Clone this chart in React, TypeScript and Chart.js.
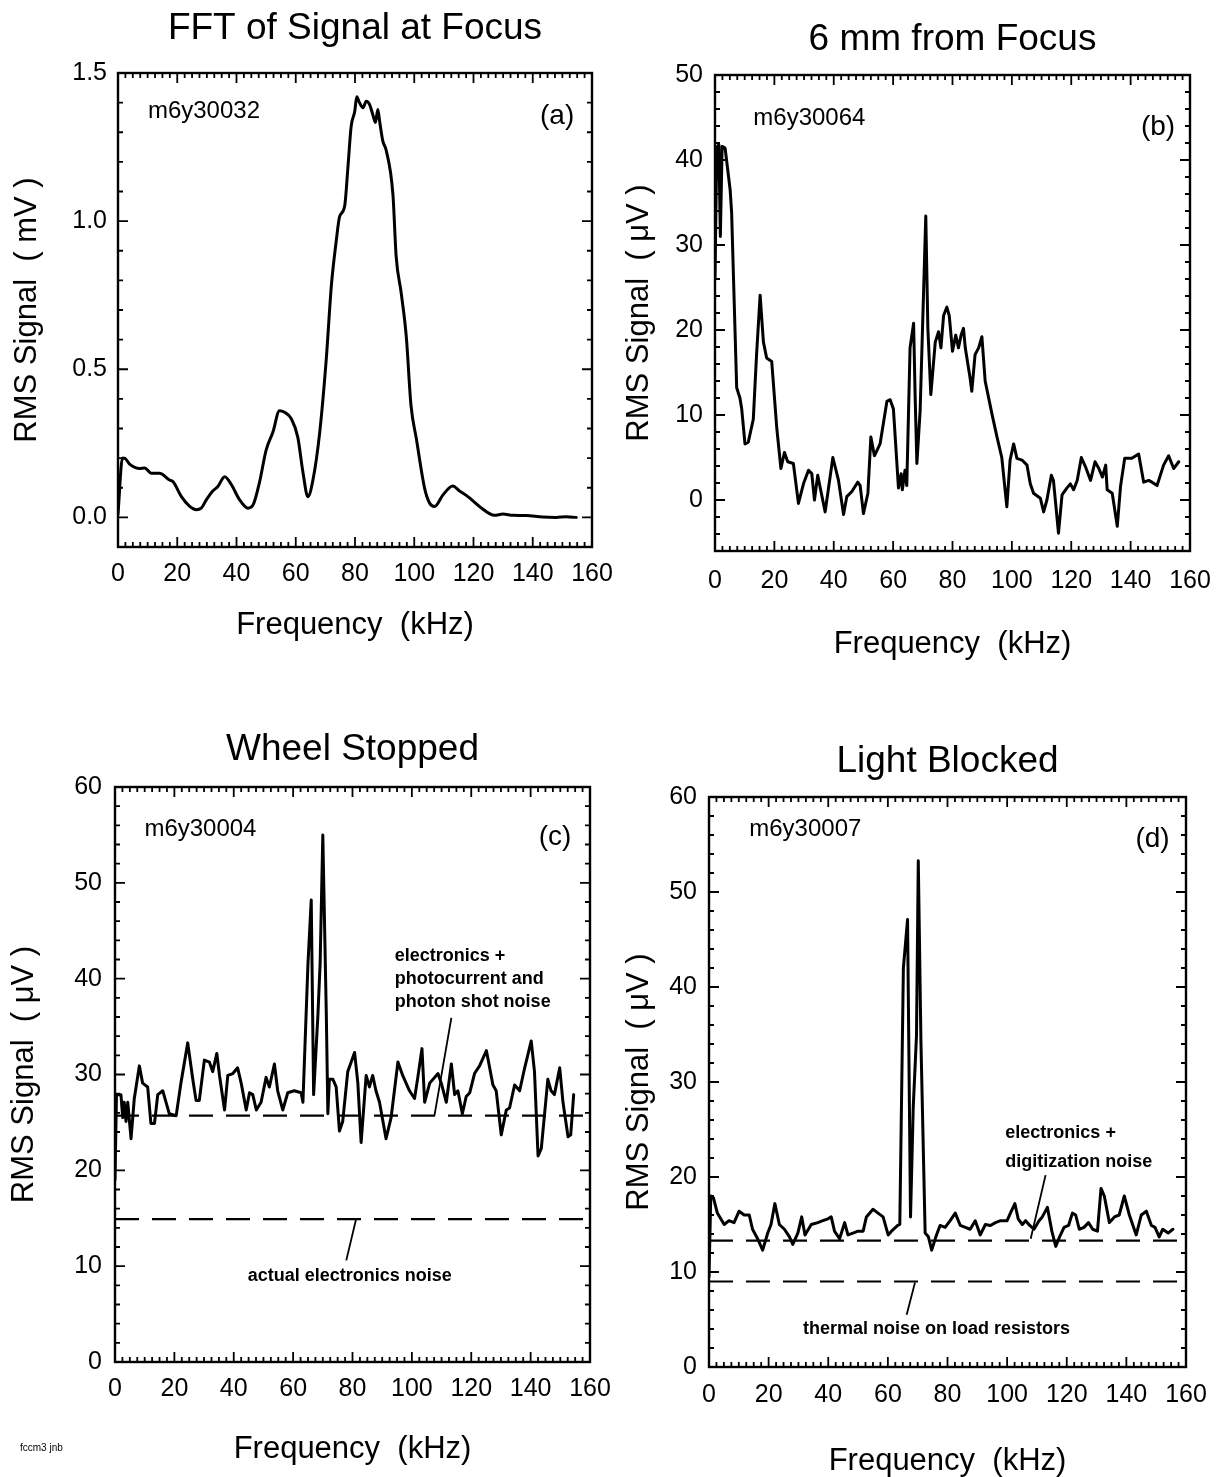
import React, { useEffect, useRef } from "react";
import { Chart, registerables } from "chart.js";

Chart.register(...registerables);

const FONT = "'Liberation Sans', Arial, Helvetica, sans-serif";

// ---------- shared axis ticks ----------
const X_TICKS = [0, 20, 40, 60, 80, 100, 120, 140, 160];
const Y_TICKS_A = [0, 0.5, 1.0, 1.5];
const Y_TICKS_B = [0, 10, 20, 30, 40, 50];
const Y_TICKS_CD = [0, 10, 20, 30, 40, 50, 60];

// ---------- panel (a): FFT of Signal at Focus (mV) ----------
const freqA = [0, 1.5, 2.2, 3.9, 7.3, 9, 11.2, 14, 17.4, 18.6, 21.4, 24.2, 26.4, 28.1, 29.8, 32, 33.7, 36, 38.3, 41, 43.9, 45.6, 47.8, 50, 52.3, 54.5, 56.2, 58.5, 60.7, 62.4, 64.1, 65.8, 68.1, 70.3, 72, 73.7, 74.8, 76.5, 77.6, 78.7, 79.9, 80.6, 81.5, 82.7, 83.8, 84.9, 86, 86.9, 87.7, 88.3, 89.4, 90.5, 92.8, 93.9, 95.6, 97.3, 98.9, 100.7, 103.5, 105.2, 106.9, 109.7, 113, 115.3, 118.1, 122, 127.1, 129.9, 133.3, 137.8, 143.4, 147.9, 151.3, 154.7];
const rmsA = [0.01, 0.2, 0.2, 0.18, 0.165, 0.167, 0.149, 0.149, 0.126, 0.12, 0.07, 0.037, 0.026, 0.031, 0.059, 0.089, 0.104, 0.137, 0.11, 0.06, 0.031, 0.042, 0.12, 0.227, 0.288, 0.36, 0.355, 0.333, 0.27, 0.154, 0.07, 0.126, 0.288, 0.534, 0.78, 0.936, 1.015, 1.05, 1.18, 1.32, 1.37, 1.42, 1.4, 1.383, 1.405, 1.394, 1.36, 1.333, 1.377, 1.338, 1.27, 1.24, 1.09, 0.88, 0.757, 0.612, 0.378, 0.266, 0.098, 0.048, 0.037, 0.076, 0.106, 0.089, 0.07, 0.037, 0.007, 0.011, 0.007, 0.006, 0.001, 0, 0.002, 0];

// ---------- panel (b): 6 mm from Focus (uV) ----------
const freqB = [0, 0.6, 1.3, 1.8, 2.4, 3.4, 5.1, 5.6, 7.3, 8.4, 9.0, 10.1, 11.2, 12.9, 14.0, 15.2, 16.3, 17.4, 19.1, 20.8, 22.2, 23.4, 24.5, 26.4, 28.1, 29.8, 31.5, 32.6, 33.5, 34.6, 35.7, 37.1, 39.7, 41.6, 43.3, 44.4, 46.1, 48.1, 48.9, 50.0, 51.5, 52.5, 53.7, 55.6, 57.9, 59.0, 60.1, 61.8, 62.7, 63.1, 64.0, 64.6, 65.7, 66.9, 67.4, 68.0, 69.1, 69.9, 71.0, 71.7, 72.7, 74.2, 75.3, 76.1, 77.0, 78.1, 78.9, 80.0, 81.1, 82.0, 82.9, 83.7, 84.3, 85.9, 86.5, 87.6, 88.8, 89.9, 91.0, 93.3, 95.0, 96.6, 98.3, 99.4, 100.6, 101.7, 103.4, 105.1, 106.2, 107.3, 109.6, 110.7, 111.8, 113.3, 114.0, 115.7, 116.9, 118.5, 119.7, 120.8, 122.0, 123.4, 124.8, 126.5, 128.0, 129.3, 130.5, 131.6, 132.1, 133.8, 135.5, 136.6, 138.0, 140.4, 142.7, 144.4, 146.1, 147.2, 148.9, 151.1, 152.8, 154.5, 156.2];
const rmsB = [26, 41.5, 41.8, 31, 41.6, 41.4, 36.5, 33.8, 13.2, 12.0, 10.7, 6.6, 6.8, 9.5, 17.1, 24.1, 18.6, 16.7, 16.3, 8.5, 3.7, 5.6, 4.5, 4.3, -0.4, 1.9, 3.5, 3.1, 0, 2.9, 1.0, -1.4, 5.0, 2.3, -1.7, 0.4, 1.0, 2.1, 1.7, -1.6, 0.8, 7.4, 5.2, 6.6, 11.6, 11.8, 10.7, 1.4, 3.1, 1.2, 3.5, 1.7, 17.9, 20.8, 12.4, 4.3, 10.5, 20.2, 33.4, 20.2, 12.4, 18.6, 19.8, 17.9, 21.7, 22.7, 21.7, 17.5, 19.4, 17.9, 19.4, 20.2, 17.9, 14.4, 12.8, 17.1, 17.9, 19.2, 14.0, 10.1, 7.4, 5.0, -0.8, 4.7, 6.6, 4.9, 4.7, 4.1, 1.9, 0.8, 0.2, -1.4, 0, 2.9, 2.3, -3.9, 0.6, 1.4, 1.9, 1.2, 2.3, 5.0, 3.9, 2.3, 4.5, 3.7, 2.7, 4.1, 1.2, 0.8, -3.1, 1.6, 4.9, 4.9, 5.4, 2.1, 2.3, 2.1, 1.7, 4.1, 5.2, 3.7, 4.5];

// ---------- panel (c): Wheel Stopped (uV) ----------
const freqC = [0, 0.5, 2, 2.6, 3.1, 3.7, 4.3, 5.4, 6.5, 8.2, 9.3, 11, 12.1, 13.3, 14.4, 16.1, 17.2, 18.3, 20.6, 22.2, 24.5, 26.2, 27.3, 28.4, 30.1, 31.8, 32.9, 34.3, 35.2, 36.9, 38, 39.7, 41.3, 42.5, 44.2, 45.3, 46.4, 47.6, 49.2, 50.9, 52, 53.7, 54.8, 56.5, 58.2, 60.4, 62.7, 63.3, 65, 66.1, 66.9, 68.3, 69.1, 70, 71.2, 71.7, 72.2, 73.4, 74.5, 75.6, 76.7, 78.4, 80.7, 81.8, 82.9, 84.6, 85.7, 86.8, 87.9, 89.1, 91.3, 93, 95.3, 96.9, 99.2, 100.9, 102, 103.4, 104.3, 106, 108.8, 109.9, 111.6, 113.3, 114.4, 115.5, 117, 118.3, 119.5, 121.1, 122.8, 125.1, 127.3, 128.4, 130.1, 131.8, 132.9, 134.6, 136.3, 138, 140.2, 141.3, 142.5, 143.6, 145.8, 146.9, 148, 149.8, 150.9, 152.6, 153.5, 154.5];
const rmsC = [19, 27.9, 27.9, 25.5, 27.1, 25.1, 27.1, 23.3, 27.5, 30.9, 29.1, 28.7, 24.9, 24.9, 27.9, 28.3, 27.1, 25.9, 25.7, 29.1, 33.3, 29.5, 27.3, 27.3, 31.5, 31.3, 30.3, 32.2, 29.9, 26.3, 29.9, 30.1, 30.7, 29.1, 26.3, 28.1, 27.9, 26.3, 27.1, 29.7, 28.7, 31.1, 28.3, 26.3, 28.1, 28.3, 28.1, 27.1, 41.6, 48.2, 27.9, 35.9, 41.6, 55.0, 35.9, 25.9, 29.5, 29.5, 28.7, 24.1, 25.1, 30.3, 32.3, 29.1, 22.9, 29.9, 28.7, 29.9, 28.3, 27.1, 23.3, 25.5, 31.3, 29.9, 28.3, 27.5, 29.7, 32.7, 27.1, 29.1, 30.1, 29.1, 27.1, 31.1, 27.9, 28.3, 25.9, 27.7, 28.1, 30.1, 30.9, 32.5, 28.9, 28.3, 23.7, 26.3, 26.5, 28.9, 28.3, 30.7, 33.5, 30.3, 21.5, 22.3, 29.5, 28.3, 27.9, 30.7, 27.1, 23.5, 23.7, 27.9];
const levelsC = [25.7, 14.9];
const leaderC1X = [113.3, 107.6];
const leaderC1Y = [35.9, 25.7];
const leaderC2X = [81.2, 77.9];
const leaderC2Y = [14.9, 10.6];

// ---------- panel (d): Light Blocked (uV) ----------
const freqD = [0, 0.6, 1.5, 2.8, 5.1, 6.7, 8.4, 10.1, 11.8, 13.5, 14.6, 16.3, 18, 19.7, 20.8, 22.1, 23.6, 25.3, 27, 28.1, 29.8, 31.1, 32.2, 34.3, 36.5, 38.2, 39.9, 41, 42.1, 43.8, 45.5, 46.6, 48.3, 50, 51.7, 52.8, 55, 56.7, 58.4, 60.1, 61.2, 63.3, 64, 65.2, 66.6, 67.6, 68.5, 69.6, 70.2, 71.1, 72.5, 73.6, 74.7, 76.1, 77.5, 79.2, 80.9, 82.6, 84.3, 86, 87.6, 89.3, 91, 92.7, 94.4, 96.1, 97.8, 100, 101.1, 102.6, 103.7, 105.1, 106.2, 107.6, 109, 110.7, 111.8, 113.5, 115, 116.3, 117.6, 119.1, 120.6, 121.9, 123, 124.2, 125.8, 127.3, 128.7, 130.3, 131.5, 132.6, 134.3, 136, 137.6, 139.3, 141, 143.3, 145, 146.7, 148.4, 149.6, 151, 152.2, 154, 155.6];
const rmsD = [9.5, 18.0, 17.8, 16.2, 15.0, 15.4, 15.2, 16.4, 16.0, 16.0, 14.5, 13.5, 12.3, 14.1, 15.0, 17.2, 15.0, 14.5, 13.7, 12.9, 14.1, 15.8, 13.9, 15.0, 15.2, 15.4, 15.6, 15.8, 14.3, 13.5, 15.2, 13.9, 14.1, 14.3, 14.3, 15.8, 16.6, 16.2, 15.8, 13.9, 14.3, 14.9, 15.0, 42.0, 47.1, 15.8, 27.3, 34.9, 53.3, 34.1, 14.1, 13.7, 12.3, 13.7, 14.9, 14.7, 15.4, 16.2, 14.9, 14.7, 14.5, 15.4, 13.9, 15.0, 14.9, 15.2, 15.4, 15.4, 16.2, 17.2, 15.6, 15.0, 15.4, 14.9, 14.5, 15.4, 15.8, 16.8, 14.3, 12.7, 13.7, 14.7, 14.9, 16.2, 16.0, 14.5, 14.7, 15.2, 14.5, 14.3, 18.8, 18.0, 15.2, 15.8, 16.0, 18.0, 16.0, 13.9, 16.0, 16.4, 14.9, 14.7, 13.7, 14.5, 14.1, 14.5];
const levelsD = [13.3, 9.0];
const leaderD1X = [112.9, 107.9];
const leaderD1Y = [20.2, 13.5];
const leaderD2X = [69.1, 66.3];
const leaderD2Y = [8.9, 5.5];

// ---------- helpers ----------
type Note = { text: string; x: number; y: number; size: number; bold?: boolean; align: CanvasTextAlign };
type PixNote = { text: string; px: number; py: number; size: number };

type Panel = {
  key: string;
  left: number; top: number; w: number; h: number;
  l: number; r: number; t: number; b: number;
  title: string; titleY: number;
  yTitle: string;
  yMin: number; yMax: number; yTicks: number[]; yMinor: number; yMajor: number; yDec: number;
  xTickPad: number; yTickPad: number; xTitlePadB: number; yTitlePadT: number;
  datasets: any[];
  notes: Note[];
  pixNotes: PixNote[];
};

const pts = (xs: number[], ys: number[]) => xs.map((x, i) => ({ x, y: ys[i] }));

const curve = (xs: number[], ys: number[], smooth = false) => ({
  data: pts(xs, ys),
  borderColor: "#000",
  borderWidth: 3,
  pointRadius: 0,
  fill: false,
  tension: smooth ? 0.4 : 0,
  cubicInterpolationMode: smooth ? "monotone" : "default",
  borderJoinStyle: "round",
  borderCapStyle: "round",
});

const dashed = (level: number) => ({
  data: pts([0, 160], [level, level]),
  borderColor: "#000",
  borderWidth: 2.2,
  borderDash: [24, 13],
  pointRadius: 0,
  fill: false,
  tension: 0,
});

const leader = (xs: number[], ys: number[]) => ({
  data: pts(xs, ys),
  borderColor: "#000",
  borderWidth: 1.8,
  pointRadius: 0,
  fill: false,
  tension: 0,
});

const PANELS: Panel[] = [
  {
    key: "a", left: 0, top: 0, w: 613, h: 700,
    l: 118, r: 592, t: 73, b: 547,
    title: "FFT of Signal at Focus", titleY: 29,
    yTitle: "RMS Signal  ( mV )",
    yMin: -0.1, yMax: 1.5, yTicks: Y_TICKS_A, yMinor: 0.1, yMajor: 0.5, yDec: 1,
    xTickPad: 12, yTickPad: 11, xTitlePadB: 59, yTitlePadT: 12,
    datasets: [curve(freqA, rmsA, true)],
    notes: [
      { text: "m6y30032", x: 10.1, y: 1.372, size: 24, align: "left" },
      { text: "(a)", x: 154, y: 1.355, size: 28, align: "right" },
    ],
    pixNotes: [],
  },
  {
    key: "b", left: 613, top: 0, w: 614, h: 700,
    l: 102, r: 577, t: 75, b: 551,
    title: "6 mm from Focus", titleY: 40,
    yTitle: "RMS Signal  ( \u03bcV )",
    yMin: -6, yMax: 50, yTicks: Y_TICKS_B, yMinor: 2, yMajor: 10, yDec: 0,
    xTickPad: 15, yTickPad: 12, xTitlePadB: 40, yTitlePadT: 11,
    datasets: [curve(freqB, rmsB)],
    notes: [
      { text: "m6y30064", x: 12.9, y: 44.9, size: 24, align: "left" },
      { text: "(b)", x: 155, y: 43.9, size: 28, align: "right" },
    ],
    pixNotes: [],
  },
  {
    key: "c", left: 0, top: 700, w: 613, h: 777,
    l: 115, r: 590, t: 87, b: 662,
    title: "Wheel Stopped", titleY: 50,
    yTitle: "RMS Signal  ( \u03bcV )",
    yMin: 0, yMax: 60, yTicks: Y_TICKS_CD, yMinor: 2, yMajor: 10, yDec: 0,
    xTickPad: 12, yTickPad: 13, xTitlePadB: 12, yTitlePadT: 9,
    datasets: [
      curve(freqC, rmsC),
      dashed(levelsC[0]),
      dashed(levelsC[1]),
      leader(leaderC1X, leaderC1Y),
      leader(leaderC2X, leaderC2Y),
    ],
    notes: [
      { text: "m6y30004", x: 9.9, y: 55.6, size: 24, align: "left" },
      { text: "(c)", x: 153.7, y: 54.8, size: 28, align: "right" },
      { text: "electronics +", x: 94.2, y: 42.4, size: 18, bold: true, align: "left" },
      { text: "photocurrent and", x: 94.2, y: 40.0, size: 18, bold: true, align: "left" },
      { text: "photon shot noise", x: 94.2, y: 37.6, size: 18, bold: true, align: "left" },
      { text: "actual electronics noise", x: 44.7, y: 9.0, size: 18, bold: true, align: "left" },
    ],
    pixNotes: [{ text: "fccm3 jnb", px: 20, py: 748, size: 10 }],
  },
  {
    key: "d", left: 613, top: 700, w: 614, h: 777,
    l: 96, r: 573, t: 97, b: 667,
    title: "Light Blocked", titleY: 62,
    yTitle: "RMS Signal  ( \u03bcV )",
    yMin: 0, yMax: 60, yTicks: Y_TICKS_CD, yMinor: 2, yMajor: 10, yDec: 0,
    xTickPad: 13, yTickPad: 12, xTitlePadB: 0, yTitlePadT: 11,
    datasets: [
      curve(freqD, rmsD),
      dashed(levelsD[0]),
      dashed(levelsD[1]),
      leader(leaderD1X, leaderD1Y),
      leader(leaderD2X, leaderD2Y),
    ],
    notes: [
      { text: "m6y30007", x: 13.5, y: 56.6, size: 24, align: "left" },
      { text: "(d)", x: 154.5, y: 55.6, size: 28, align: "right" },
      { text: "electronics +", x: 99.4, y: 24.6, size: 18, bold: true, align: "left" },
      { text: "digitization noise", x: 99.4, y: 21.6, size: 18, bold: true, align: "left" },
      { text: "thermal noise on load resistors", x: 31.5, y: 4.0, size: 18, bold: true, align: "left" },
    ],
    pixNotes: [],
  },
];

function decorPlugin(p: Panel) {
  return {
    id: "decor_" + p.key,
    afterDatasetsDraw(chart: any) {
      const { ctx, chartArea: a } = chart;
      const xs = chart.scales.x;
      const ys = chart.scales.y;
      ctx.save();
      ctx.strokeStyle = "#000";
      ctx.fillStyle = "#000";
      ctx.lineWidth = 2.4;
      ctx.strokeRect(a.left, a.top, a.right - a.left, a.bottom - a.top);

      ctx.lineWidth = 1.8;
      ctx.beginPath();
      const xMinor = 2.5;
      const nx = Math.round(160 / xMinor);
      for (let i = 0; i <= nx; i++) {
        const v = i * xMinor;
        const px = xs.getPixelForValue(v);
        const major = Math.abs(v / 20 - Math.round(v / 20)) < 1e-6;
        const len = major ? 10 : 5;
        ctx.moveTo(px, a.bottom);
        ctx.lineTo(px, a.bottom - len);
        ctx.moveTo(px, a.top);
        ctx.lineTo(px, a.top + len);
      }
      const ny = Math.round((p.yMax - p.yMin) / p.yMinor);
      for (let i = 0; i <= ny; i++) {
        const v = p.yMin + i * p.yMinor;
        const py = ys.getPixelForValue(v);
        const major = Math.abs(v / p.yMajor - Math.round(v / p.yMajor)) < 1e-6;
        const len = major ? 10 : 5;
        ctx.moveTo(a.left, py);
        ctx.lineTo(a.left + len, py);
        ctx.moveTo(a.right, py);
        ctx.lineTo(a.right - len, py);
      }
      ctx.stroke();

      ctx.textBaseline = "middle";
      ctx.textAlign = "center";
      ctx.font = `37px ${FONT}`;
      ctx.fillText(p.title, (a.left + a.right) / 2, p.titleY);

      for (const n of p.notes) {
        ctx.font = `${n.bold ? "bold " : ""}${n.size}px ${FONT}`;
        ctx.textAlign = n.align;
        ctx.fillText(n.text, xs.getPixelForValue(n.x), ys.getPixelForValue(n.y));
      }
      for (const n of p.pixNotes) {
        ctx.font = `${n.size}px ${FONT}`;
        ctx.textAlign = "left";
        ctx.fillText(n.text, n.px, n.py);
      }
      ctx.restore();
    },
  };
}

function buildConfig(p: Panel): any {
  return {
    type: "line",
    data: { datasets: p.datasets },
    options: {
      animation: false,
      responsive: false,
      devicePixelRatio: 1,
      events: [],
      layout: { padding: { left: 0, top: p.t, right: p.w - p.r, bottom: 0 } },
      plugins: {
        legend: { display: false },
        tooltip: { enabled: false },
        title: { display: false },
      },
      scales: {
        x: {
          type: "linear",
          position: "bottom",
          min: 0,
          max: 160,
          afterBuildTicks: (s: any) => {
            s.ticks = X_TICKS.map((v) => ({ value: v }));
          },
          afterFit: (s: any) => {
            s.height = p.h - p.b;
            s.paddingLeft = 0;
            s.paddingRight = 0;
          },
          grid: { display: false, drawTicks: false },
          border: { display: false },
          ticks: {
            autoSkip: false,
            maxRotation: 0,
            minRotation: 0,
            padding: p.xTickPad,
            color: "#000",
            font: { family: FONT, size: 25 },
            callback: (v: any) => String(v),
          },
          title: {
            display: true,
            text: "Frequency  (kHz)",
            color: "#000",
            font: { family: FONT, size: 31, lineHeight: 1 },
            padding: { top: 0, bottom: p.xTitlePadB },
          },
        },
        y: {
          type: "linear",
          position: "left",
          min: p.yMin,
          max: p.yMax,
          afterBuildTicks: (s: any) => {
            s.ticks = p.yTicks.map((v) => ({ value: v }));
          },
          afterFit: (s: any) => {
            s.width = p.l;
            s.paddingTop = 0;
            s.paddingBottom = 0;
          },
          grid: { display: false, drawTicks: false },
          border: { display: false },
          ticks: {
            autoSkip: false,
            padding: p.yTickPad,
            color: "#000",
            font: { family: FONT, size: 25 },
            callback: (v: any) => Number(v).toFixed(p.yDec),
          },
          title: {
            display: true,
            text: p.yTitle,
            color: "#000",
            font: { family: FONT, size: 31, lineHeight: 1 },
            padding: { top: p.yTitlePadT, bottom: 0 },
          },
        },
      },
    },
    plugins: [decorPlugin(p)],
  };
}

function PanelChart({ p }: { p: Panel }) {
  const ref = useRef<HTMLCanvasElement | null>(null);
  useEffect(() => {
    if (!ref.current) return;
    const chart = new Chart(ref.current, buildConfig(p));
    return () => chart.destroy();
  }, [p]);
  return (
    <canvas
      ref={ref}
      width={p.w}
      height={p.h}
      style={{ position: "absolute", left: p.left, top: p.top, width: p.w, height: p.h }}
    />
  );
}

export default function App() {
  return (
    <div
      style={{
        position: "absolute",
        left: 0,
        top: 0,
        width: 1227,
        height: 1477,
        background: "#fff",
        overflow: "hidden",
      }}
    >
      {PANELS.map((p) => (
        <PanelChart key={p.key} p={p} />
      ))}
    </div>
  );
}
